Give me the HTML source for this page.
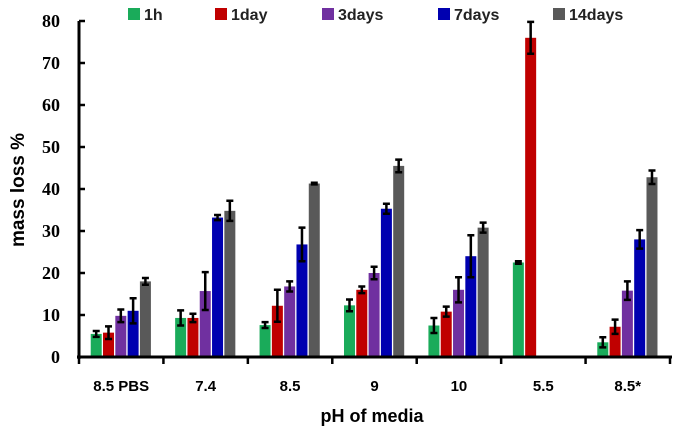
<!DOCTYPE html>
<html><head><meta charset="utf-8"><style>body{margin:0;background:#fff}svg{display:block}</style></head>
<body>
<svg id="chart" width="678" height="431" xmlns="http://www.w3.org/2000/svg"></svg>
<script>
const categories = ["8.5 PBS","7.4","8.5","9","10","5.5","8.5*"];
const seriesNames = ["1h","1day","3days","7days","14days"];
const s1h = [5.5,9.3,7.6,12.3,7.5,22.5,3.5];
const s1day = [5.8,9.3,12.2,16,10.8,76,7.2];
const s3days = [9.8,15.7,16.8,20,16,0,15.8];
const s7days = [11,33.2,26.8,35.3,24,0,28];
const s14days = [18,34.8,41.3,45.5,30.8,0,42.8];
const e1h = [0.7,1.8,0.7,1.4,1.8,0.3,1.2];
const e1day = [1.5,1,3.8,0.8,1.2,3.8,1.7];
const e3days = [1.5,4.5,1.2,1.5,3,0,2.2];
const e7days = [3,0.6,4,1.2,5,0,2.2];
const e14days = [0.8,2.4,0.2,1.5,1.2,0,1.6];
const yTicks = [0,10,20,30,40,50,60,70,80];
const colors = ["#1aab5a","#c00000","#7030a0","#0000b0","#595959"];
const series=[s1h,s1day,s3days,s7days,s14days], errs=[e1h,e1day,e3days,e7days,e14days];
const svg=document.getElementById('chart'), NS="http://www.w3.org/2000/svg";
const X0=79,X1=670,Y0=357,Y1=21;
const y=v=>Y0-(v/80)*(Y0-Y1);
const gw=(X1-X0)/categories.length;
function mk(t,a,txt){const e=document.createElementNS(NS,t);for(const k in a)e.setAttribute(k,a[k]);if(txt!==undefined)e.textContent=txt;svg.appendChild(e);return e;}
// bars
series.forEach((s,si)=>{s.forEach((v,ci)=>{
  if(v<=0)return;
  const bx=X0+gw*ci+gw/2-30.5+si*12.3;
  const r=mk('rect',{x:bx,y:y(v),width:11,height:Y0-y(v),fill:colors[si]});
  
  
  const e=errs[si][ci];
  if(e>0){const cx=bx+5.5;
    const g=mk('path',{d:`M${cx},${y(v+e)}V${y(v-e)}M${cx-3.5},${y(v+e)}H${cx+3.5}M${cx-3.5},${y(v-e)}H${cx+3.5}`,stroke:'#000','stroke-width':2.5,fill:'none'});
    
    
  }
});});
// axes
let a=mk('line',{x1:X0,y1:Y1,x2:X0,y2:Y0+2,stroke:'#000','stroke-width':3});

a=mk('line',{x1:X0-2,y1:Y0,x2:X1+2,y2:Y0,stroke:'#000','stroke-width':3});

yTicks.forEach(t=>{
  mk('line',{x1:X0,y1:y(t),x2:X0+6,y2:y(t),stroke:'#000','stroke-width':2.5});
  const tx=mk('text',{x:60,y:y(t)+6,'text-anchor':'end','font-family':'Liberation Serif,serif','font-weight':'bold','font-size':18},t);
  
});
for(let i=0;i<=categories.length;i++){mk('line',{x1:X0+gw*i,y1:Y0,x2:X0+gw*i,y2:Y0+7,stroke:'#000','stroke-width':2.5});}
categories.forEach((c,i)=>{
  const tx=mk('text',{x:X0+gw*i+gw/2,y:391,'text-anchor':'middle','font-family':'Liberation Sans,sans-serif','font-weight':'bold','font-size':15},c);
  
});
let t=mk('text',{x:372,y:422,'text-anchor':'middle','font-family':'Liberation Sans,sans-serif','font-weight':'bold','font-size':18},'pH of media');

t=mk('text',{x:0,y:0,transform:'translate(24,190) rotate(-90)','text-anchor':'middle','font-family':'Liberation Sans,sans-serif','font-weight':'bold','font-size':19},'mass loss %');

// legend
const lx=[128,215,322,438,553];
seriesNames.forEach((n,i)=>{
  const r=mk('rect',{x:lx[i],y:8,width:12,height:12,fill:colors[i]});
  
  const tx=mk('text',{x:lx[i]+16,y:20,'font-family':'Liberation Sans,sans-serif','font-weight':'bold','font-size':16,fill:'#222'},n);
  
});
</script>
</body></html>
